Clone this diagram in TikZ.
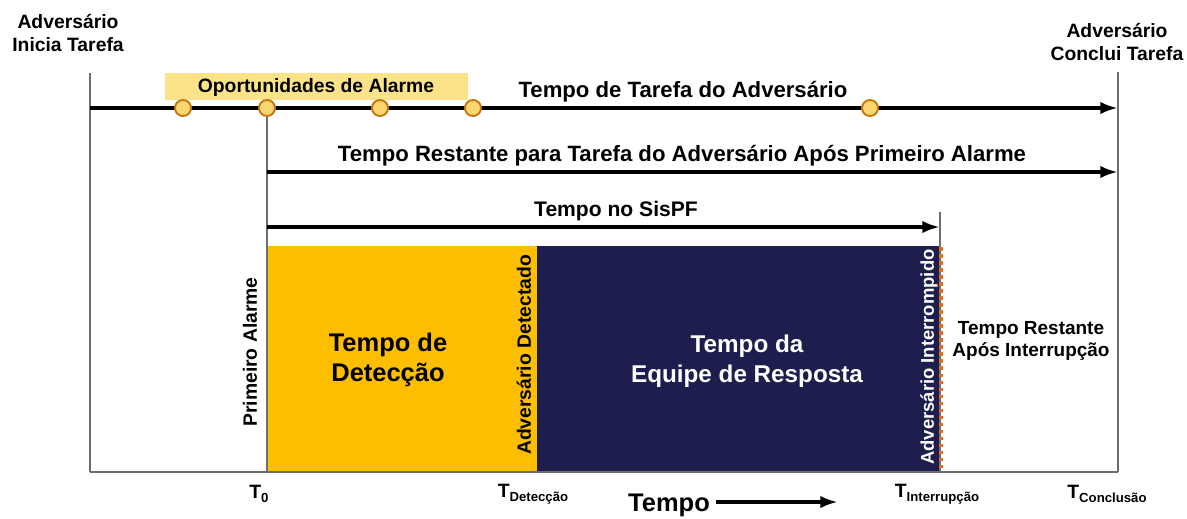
\documentclass[tikz,border=0pt]{standalone}
\usepackage{fontspec}
\setmainfont{Liberation Sans}
\usetikzlibrary{arrows.meta}
\tikzset{>={Latex[length=10pt,width=7pt]}}
\definecolor{gold}{HTML}{FDBE00}
\definecolor{navy}{HTML}{1E1E4E}
\definecolor{alarmfill}{HTML}{FBD66E}
\definecolor{alarmedge}{HTML}{C4780E}
\definecolor{band}{HTML}{FCE38A}
\definecolor{tick}{HTML}{6E6E6E}
\definecolor{cut}{HTML}{E0701C}
\tikzset{
  lbl/.style={font=\fontsize{11}{13}\selectfont\bfseries, align=center, inner sep=1pt},
  arrowlbl/.style={font=\fontsize{12.6}{14}\selectfont\bfseries, inner sep=1pt},
  biglbl/.style={font=\fontsize{14.5}{17}\selectfont\bfseries, align=center, inner sep=1pt},
  timeline/.style={->, line width=2.2pt},
  marker/.style={draw=tick, line width=0.9pt},
  alarm/.style={circle, draw=alarmedge, fill=alarmfill, line width=1.1pt, minimum size=0.32cm, inner sep=0pt},
}
\newcommand{\tlabel}[1]{T\raisebox{-0.35ex}{\fontsize{7.5}{8}\selectfont #1}}

\begin{document}
\begin{tikzpicture}[x=0.02cm,y=-0.02cm]
            \useasboundingbox (0,0) rectangle (1187,518);
            % fixed points of the time axis
            \coordinate (inicio) at (90,108);
            \coordinate (fim) at (1118,108);
            \coordinate (inicioTop) at (90,73);
            \coordinate (inicioBase) at (90,472);
            \coordinate (fimTop) at (1118,72);
            \coordinate (fimBase) at (1118,472);
            \coordinate (t0Top) at (267,108);
            \coordinate (t0Base) at (267,472);
            \coordinate (tiTop) at (940,212);
            \coordinate (tiBase) at (940,472);
            \coordinate (restante) at (267,172);
            \coordinate (restanteFim) at (1118,172);
            \coordinate (sispf) at (267,227);
            \coordinate (sispfFim) at (940,227);
            % shaded areas
            \fill[band] (165,73) rectangle (468,100);
            \fill[gold] (267,246) rectangle (537,472);
            \fill[navy] (537,246) rectangle (940,472);
            % vertical markers and base line
            \draw[marker] (inicioTop) -- (inicioBase);
            \draw[marker] (fimTop) -- (fimBase);
            \draw[marker] (t0Top) -- (t0Base);
            \draw[marker] (tiTop) -- (tiBase);
            \draw[marker] (inicioBase) -- (fimBase);
            \draw[cut, line width=2pt, dotted] (941,247) -- (941,471);
            % time arrows
            \draw[timeline] (inicio) -- (fim);
            \draw[timeline] (restante) -- (restanteFim);
            \draw[timeline] (sispf) -- (sispfFim);
            % alarm opportunities
            \node[alarm] (al1) at (183,108) {};
            \node[alarm] (al2) at (267,108) {};
            \node[alarm] (al3) at (380,108) {};
            \node[alarm] (al4) at (473,108) {};
            \node[alarm] (al5) at (870,108) {};
            % labels
            \node[lbl] (inicia) at (68,33) {Adversário\\Inicia Tarefa};
            \node[lbl] (conclui) at (1117,42) {Adversário\\Conclui Tarefa};
            \node[lbl] (oport) at (316,87) {Oportunidades de Alarme};
            \node[arrowlbl] (tarefa) at (683,92) {Tempo de Tarefa do Adversário};
            \node[arrowlbl] (restLbl) at (682,156) {Tempo Restante para Tarefa do Adversário Após Primeiro Alarme};
            \node[arrowlbl, font=\fontsize{12}{14}\selectfont\bfseries] (sispfLbl) at (616,211) {Tempo no SisPF};
            \node[biglbl] (deteccao) at (388,360) {Tempo de\\Detecção};
            \node[biglbl, text=white, font=\fontsize{13.8}{17}\selectfont\bfseries] (resposta) at (747,361) {Tempo da\\Equipe de Resposta};
            \node[lbl, rotate=90] (primeiro) at (250,352) {Primeiro Alarme};
            \node[lbl, rotate=90] (detectado) at (524,355) {Adversário Detectado};
            \node[lbl, rotate=90, text=white, font=\fontsize{10.5}{12}\selectfont\bfseries] (interrompido) at (929,357) {Adversário Interrompido};
            \node[lbl, font=\fontsize{10.8}{13}\selectfont\bfseries] (aposInt) at (1031,341) {Tempo Restante\\Após Interrupção};
            % time axis marks
            \node[lbl] (t0) at (259,494) {\tlabel{0}};
            \node[lbl] (tdet) at (533,494) {\tlabel{Detecção}};
            \node[lbl] (tint) at (937,494) {\tlabel{Interrupção}};
            \node[lbl] (tcon) at (1107,494) {\tlabel{Conclusão}};
            \node[biglbl] (tempo) at (669,505) {Tempo};
            \coordinate (tempoFim) at (838,502);
            \draw[->, line width=2.6pt] (tempo.east) ++(4,-3) -- (tempoFim);
        \end{tikzpicture}
\end{document}
